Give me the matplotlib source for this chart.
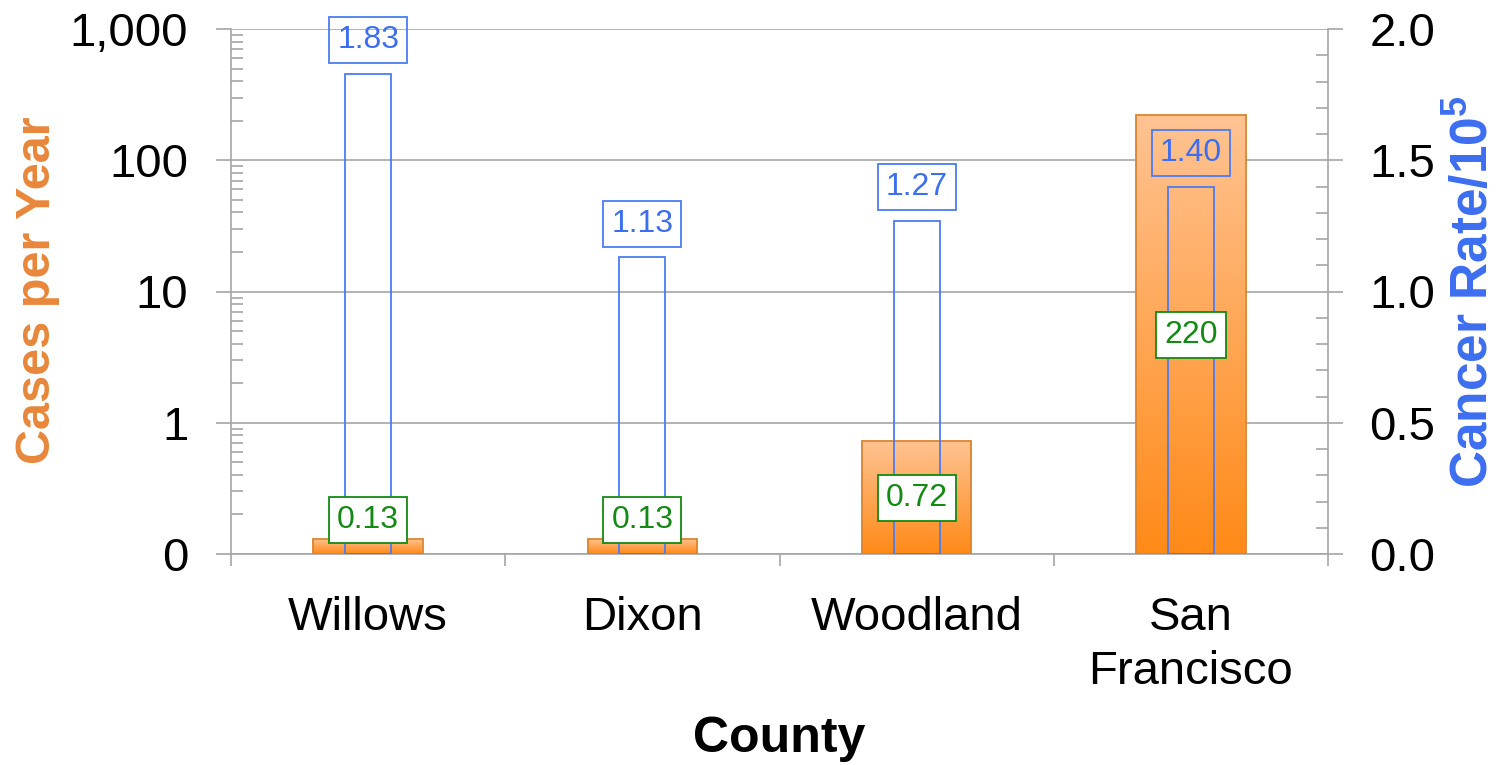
import numpy as np
import matplotlib
matplotlib.use('Agg')
import matplotlib.pyplot as plt
import matplotlib.transforms as mtransforms
from matplotlib.colors import LinearSegmentedColormap
from matplotlib.ticker import LogLocator, MultipleLocator, NullFormatter

# ---------------- data ----------------
counties = ['Willows', 'Dixon', 'Woodland', 'San\nFrancisco']
cases_per_year = [0.13, 0.13, 0.72, 220]
cancer_rate = [1.83, 1.13, 1.27, 1.40]
cases_labels = ['0.13', '0.13', '0.72', '220']
rate_labels = ['1.83', '1.13', '1.27', '1.40']
left_ticks = [0.1, 1, 10, 100, 1000]
left_tick_labels = ['0', '1', '10', '100', '1,000']
right_ticks = [0.0, 0.5, 1.0, 1.5, 2.0]
right_tick_labels = ['0.0', '0.5', '1.0', '1.5', '2.0']

plt.rcParams['font.family'] = ['Liberation Sans', 'DejaVu Sans']
plt.rcParams['mathtext.fontset'] = 'custom'
plt.rcParams['mathtext.rm'] = 'Liberation Sans:bold'
plt.rcParams['mathtext.bf'] = 'Liberation Sans:bold'

W, H = 1497, 765
fig = plt.figure(figsize=(W / 100, H / 100), dpi=100)
L, R, T, B = 231, 1328, 29, 554
ax = fig.add_axes([L / W, 1 - B / H, (R - L) / W, (B - T) / H])
ax.set_yscale('log')
ax.set_ylim(left_ticks[0], left_ticks[-1])
ax.set_xlim(-0.5, len(counties) - 0.5)
x = np.arange(len(counties))

grid = '#A6A6A6'
orange_edge = '#D8842F'
blue = '#4A7CF2'
blue_txt = '#3C6EF0'
green = '#138A13'

# orange bars (cases, log axis) with vertical gradient
bars = ax.bar(x, np.array(cases_per_year) - left_ticks[0], bottom=left_ticks[0],
              width=0.40, facecolor='none', edgecolor=orange_edge,
              linewidth=1.3, zorder=3)
cmap = LinearSegmentedColormap.from_list('org', ['#FF8A18', '#FFC392'])
grad = np.linspace(0, 1, 256).reshape(-1, 1)
blend = mtransforms.blended_transform_factory(ax.transData, ax.transAxes)
tops = []
for rect, v in zip(bars, cases_per_year):
    ftop = ax.transAxes.inverted().transform(ax.transData.transform((0, v)))[1]
    tops.append(ftop)
    x0 = rect.get_x()
    x1 = x0 + rect.get_width()
    im = ax.imshow(grad, extent=(x0, x1, 0, ftop), origin='lower', cmap=cmap,
                   aspect='auto', transform=blend, zorder=2, interpolation='bilinear')
    im.set_clip_path(rect)
ax.set_xlim(-0.5, len(counties) - 0.5)
ax.set_ylim(left_ticks[0], left_ticks[-1])

# left axis ticks
ax.set_yticks(left_ticks)
ax.set_yticklabels(left_tick_labels, fontsize=34)
ax.yaxis.set_minor_locator(LogLocator(base=10, subs=range(2, 10)))
ax.yaxis.set_minor_formatter(NullFormatter())
ax.tick_params(axis='y', which='major', direction='out', length=10.8, width=1.2,
               color=grid, pad=20)
ax.tick_params(axis='y', which='minor', direction='in', length=8.5, width=1.2,
               color=grid)
ax.grid(axis='y', which='major', color=grid, linewidth=1.2)
ax.set_axisbelow(True)

# x ticks: separators (major) and labels (minor)
ax.set_xticks(np.arange(len(counties) + 1) - 0.5)
ax.set_xticklabels([])
ax.set_xticks(x, minor=True)
ax.set_xticklabels(counties, minor=True, fontsize=34, linespacing=1.3)
ax.tick_params(axis='x', which='major', direction='out', length=8.6, width=1.2, color=grid)
ax.tick_params(axis='x', which='minor', length=0, pad=30)

for s in ['left', 'bottom']:
    ax.spines[s].set_color(grid)
    ax.spines[s].set_linewidth(1.2)
ax.spines['top'].set_visible(False)
ax.spines['right'].set_visible(False)

# right axis: cancer rate
ax2 = ax.twinx()
ax2.set_ylim(right_ticks[0], right_ticks[-1])
ax2.bar(x, cancer_rate, width=0.168, facecolor='none', edgecolor=blue,
        linewidth=1.3, zorder=3)
ax2.set_yticks(right_ticks)
ax2.set_yticklabels(right_tick_labels, fontsize=34)
ax2.yaxis.set_minor_locator(MultipleLocator(0.1))
ax2.tick_params(axis='y', which='major', direction='out', length=10.8, width=1.2,
                color=grid, pad=19)
ax2.tick_params(axis='y', which='minor', direction='in', length=8.5, width=1.2,
                color=grid)
for s in ['left', 'bottom', 'top']:
    ax2.spines[s].set_visible(False)
ax2.spines['right'].set_color(grid)
ax2.spines['right'].set_linewidth(1.2)

# blue value labels
for xi, v, lab in zip(x, cancer_rate, rate_labels):
    ax2.annotate(lab, (xi, v), xytext=(0, 24), textcoords='offset points',
                 ha='center', va='center', fontsize=23, color=blue_txt,
                 bbox=dict(boxstyle='square,pad=0.25', fc='none', ec=blue, lw=1.3),
                 zorder=6)

# green value labels
blend2 = mtransforms.blended_transform_factory(ax2.transData, ax2.transAxes)
for xi, ft, lab in zip(x, tops, cases_labels):
    yc = max(ft / 2, 0.065)
    ax2.text(xi, yc, lab, transform=blend2, ha='center', va='center',
             fontsize=23, color=green,
             bbox=dict(boxstyle='square,pad=0.25', fc='white', ec=green, lw=1.3),
             zorder=7)

# axis titles
fig.text(38 / W, 1 - 290 / H, 'Cases per Year', rotation=90, ha='center', va='center',
         fontsize=35, fontweight='bold', color='#E8873A')
fig.text(1474 / W, 1 - 292 / H, r'Cancer Rate/10$^{5}$', rotation=90, ha='center',
         va='center', fontsize=37, fontweight='bold', color='#3C6EF0')
fig.text((L + R) / 2 / W, 1 - 752 / H, 'County', ha='center', va='baseline',
         fontsize=36, fontweight='bold', color='black')

fig.savefig('out.png', dpi=100)
